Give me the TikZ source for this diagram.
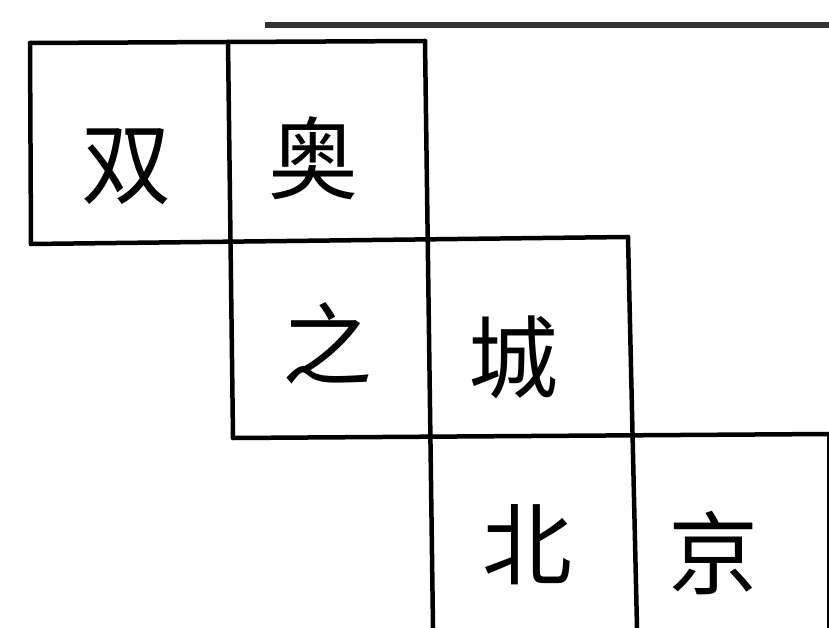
\documentclass[tikz,border=0pt]{standalone}
\usepackage{fontspec}
\newfontfamily\cjk{Noto Sans CJK SC}
\begin{document}
\begin{tikzpicture}[x=1pt,y=-1pt,
  frame/.style={line width=4.5pt,line cap=round,line join=round,black},
  topline/.style={line width=6pt,color=black!80},
  ch/.style={inner sep=0pt,font=\cjk\fontsize{90}{90}\selectfont}]
\useasboundingbox (0,0) rectangle (829,628);
% corner coordinates
\coordinate (t0) at (265,25);
\coordinate (t1) at (829,25);
\coordinate (a1) at (30,43);
\coordinate (a2) at (228,42);
\coordinate (a3) at (425,41);
\coordinate (b0) at (31,244);
\coordinate (b3) at (628,237);
\coordinate (c1) at (233,438);
\coordinate (c4) at (829,434);
\coordinate (d2) at (433,628);
\coordinate (d3) at (637,628);
\coordinate (d4) at (829,628);
\draw[topline] (t0) -- (t1);
% horizontals
\draw[frame] (a1) -- (a3);
\draw[frame] (b0) -- (b3);
\draw[frame] (c1) -- (c4);
% verticals
\draw[frame] (a1) -- (b0);
\draw[frame] (a2) -- (c1);
\draw[frame] (a3) -- (d2);
\draw[frame] (b3) -- (d3);
\draw[frame] (c4) -- (d4);
% characters
\node[ch] (s1) at (126,167) {双};
\node[ch] (s2) at (313,158) {奥};
\node[ch] (s3) at (327,343) {之};
\node[ch] (s4) at (513,357) {城};
\node[ch] (s5) at (527,545) {北};
\node[ch] (s6) at (713,553) {京};
\end{tikzpicture}
\end{document}
